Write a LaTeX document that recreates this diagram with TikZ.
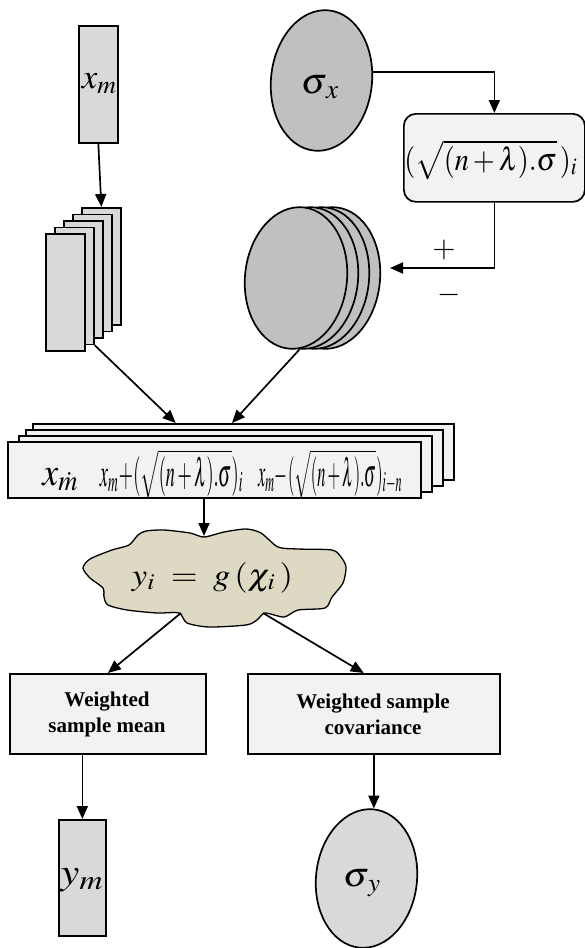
\documentclass[tikz,border=0pt]{standalone}
\usepackage{mathptmx}
\usepackage[no-math]{fontspec}
\setmainfont{Liberation Serif}
\usepackage{graphicx}
\usetikzlibrary{arrows.meta,calc,shapes.geometric}
\definecolor{gA}{HTML}{D9D9D9}
\definecolor{gB}{HTML}{C0C0C0}
\definecolor{gC}{HTML}{F2F2F2}
\definecolor{tanc}{HTML}{DDD9C3}
\tikzset{
  box/.style={draw, rectangle, inner sep=0pt, anchor=north west},
  ell/.style={draw, ellipse, inner sep=0pt},
  arr/.style={-{Triangle[length=13pt,width=11pt]}},
  lbl/.style={inner sep=0pt, anchor=base},
}
\newcommand{\fs}[1]{\fontsize{#1}{#1}\selectfont}
% \mlab{width}{height above baseline}{math}
\newcommand{\mlab}[3]{\resizebox{#1pt}{#2pt}{\fs{20}$#3$}}
\begin{document}
\begin{tikzpicture}[x=1pt,y=-1pt,line width=1.7pt]
\useasboundingbox (0,0) rectangle (585,948);
% x_m
\node[box, fill=gA, minimum width=39pt, minimum height=117pt] (xm) at (78,25) {};
\node[lbl] (xmt) at (99.5,88) {\mlab{35}{15}{x_{m}}};
% sigma_x
\node[ell, fill=gB, minimum width=101pt, minimum height=141pt, rotate=-6] (sx) at (321.5,80.5) {};
\node[lbl] (sxt) at (320,93) {\mlab{38}{18}{\sigma_{\,x}}};
% rounded box
\node[box, fill=gC, rounded corners=12pt, minimum width=181pt, minimum height=88pt] (rb) at (403,113) {};
\node[lbl] (rbt) at (491,170) {\mlab{173}{30}{(\sqrt{(n+\lambda).\sigma}\,)_i}};
% stacked rectangles
\foreach \i/\px/\py in {5/81/207,4/72/213.5,3/63/220,2/54/226.5,1/45/233}
  \node[box, fill=gA, minimum width=39pt, minimum height=117pt] (rs\i) at (\px,\py) {};
% stacked ellipses
\foreach \i/\px in {4/329,3/318,2/307,1/296}
  \node[ell, fill=gB, minimum width=102pt, minimum height=142pt, rotate=-6] (e\i) at (\px,278) {};
% connectors top
\draw[arr] (sx.15) -- (sx.15 -| rb.north) -- (rb.north);
\coordinate (pmend) at (390,268);
\draw[arr] (rb.south) -- (rb.south |- pmend) -- (pmend);
\node[lbl] (plus) at (444,257) {\fs{30}$+$};
\node[lbl] (minus) at (449,302) {\fs{30}$-$};
\draw[arr] (xm.south) -- (rs5.north);
% big stacked box
\node[box, fill=gC, minimum width=421pt, minimum height=56pt] (bb4) at (32,423) {};
\node[box, fill=gC, minimum width=417pt, minimum height=56pt] (bb3) at (25,429) {};
\node[box, fill=gC, minimum width=413pt, minimum height=56pt] (bb2) at (18,435) {};
\node[box, fill=gC, minimum width=413pt, minimum height=56pt] (bb1) at (7,441) {};
\node[lbl] (bbt1) at (60.5,485) {\mlab{36}{17}{x_{\dot m}}};
\node[lbl] (bbt2) at (171.5,486) {\mlab{143}{37}{x_m\!+\!(\sqrt{(n+\lambda).\sigma})_i}};
\node[lbl] (bbt3) at (330,486) {\mlab{144}{37}{x_m\!-\!(\sqrt{(n+\lambda).\sigma})_{i-n}}};
\draw[arr] (rs2.south east) -- ($(bb4.north west)!0.34!(bb4.north east)$);
\draw[arr] (e2.south) -- ($(bb4.north west)!0.473!(bb4.north east)$);
% cloud
\draw[fill=tanc, line width=1.3pt] plot[smooth cycle, tension=0.45] coordinates {
 (83,568) (90,559) (112,550) (129,545) (138,535) (146,531) (164,530) (190,533)
 (204,537) (224,532) (246,529) (261,533) (278,547) (298,549) (332,550) (341,557)
 (346,567) (343,583) (332,597) (325,608) (298,610) (284,617) (265,613) (257,620)
 (246,625) (209,627) (187,623) (179,613) (157,613) (127,610) (108,605) (104,597)
 (103,588) (90,578)};
\coordinate (ctop) at (204,536);
\node[lbl] (cl) at (212.5,585) {\mlab{161}{23}{y_i\;=\;g\,(\chi_i\,)}};
\coordinate (cl1) at (181,613);
\coordinate (cl2) at (263,613);
\draw[arr] (bb1.south -| ctop) -- (ctop);
% weighted boxes
\node[box, fill=gC, minimum width=196pt, minimum height=80pt] (mean) at (9,673) {};
\node[box, fill=gC, minimum width=252pt, minimum height=80pt] (cov) at (247,673) {};
\node[inner sep=0pt, align=center, font=\fs{21}\bfseries] (meant) at (107,714) {Weighted\\[5pt]sample mean};
\node[inner sep=0pt, align=center, font=\fs{21}\bfseries] (covt) at (373,714) {Weighted sample\\[5pt]covariance};
\draw[arr] (cl1) -- ($(mean.north west)!0.5!(mean.north east)$);
\draw[arr] (cl2) -- ($(cov.north west)!0.46!(cov.north east)$);
% outputs
\node[box, fill=gA, minimum width=47pt, minimum height=116pt] (ym) at (58,819) {};
\node[lbl] (ymt) at (82,884) {\mlab{43}{16}{y_{m}}};
\node[ell, fill=gA, minimum width=101pt, minimum height=139pt, rotate=-6] (sy) at (366.5,878.5) {};
\node[lbl] (syt) at (362,886) {\mlab{38}{17}{\sigma_{\,y}}};
\draw[arr] (mean.south -| ym.north) -- (ym.north);
\draw[arr] (cov.south -| sy.north) -- (sy.north);
\end{tikzpicture}
\end{document}
